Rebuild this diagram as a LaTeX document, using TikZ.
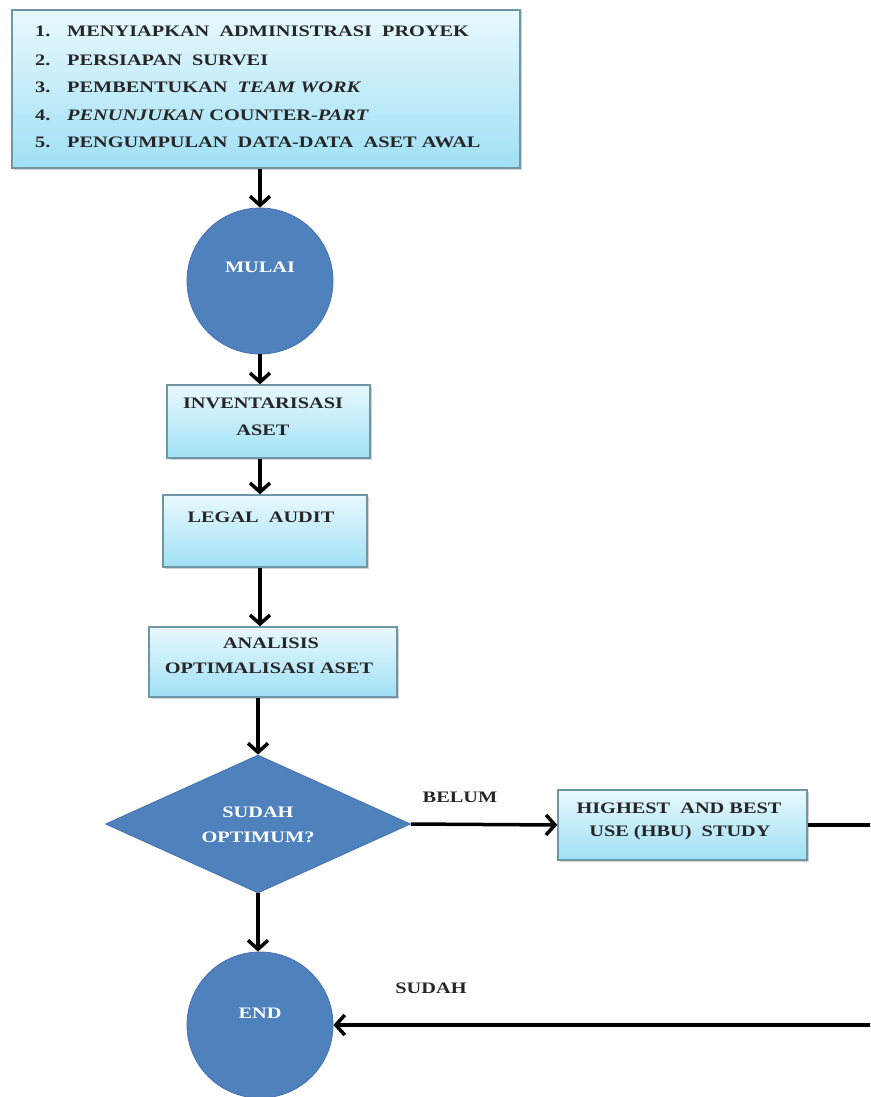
\documentclass[tikz,border=0pt]{standalone}
\usepackage{fontspec}
\setmainfont{Liberation Serif}[FakeStretch=1.27]
\usetikzlibrary{arrows.meta,shapes.geometric,shadows}
\definecolor{boxtop}{RGB}{232,249,254}
\definecolor{boxbot}{RGB}{160,224,245}
\definecolor{boxline}{RGB}{110,150,165}
\definecolor{circfill}{RGB}{79,129,189}
\definecolor{circline}{RGB}{70,115,175}
\tikzset{
  stepbox/.style={draw=boxline,line width=1.3pt,top color=boxtop,bottom color=boxbot,
    inner sep=0pt,drop shadow={shadow xshift=1.5pt,shadow yshift=-1.5pt,opacity=0.35}},
  roundnode/.style={circle,fill=circfill,draw=circline,line width=0.8pt,inner sep=0pt,minimum size=146pt},
  decision/.style={diamond,fill=circfill,draw=circline,line width=0.8pt,inner sep=0pt,aspect=2.2,
    minimum width=305pt,minimum height=138pt},
  txt/.style={font=\fontsize{16}{18}\selectfont\bfseries,inner sep=0pt,text=black!85},
  wtxt/.style={txt,text=white},
  flow/.style={line width=3.5pt,-{Straight Barb[length=9pt,width=20pt]}},
  plain/.style={line width=3.5pt}
}
\begin{document}
\begin{tikzpicture}[x=1pt,y=-1pt]
\clip (0,0) rectangle (870,1097);
\fill[white] (0,0) rectangle (870,1097);
% top box
\node[stepbox,minimum width=508pt,minimum height=158pt] (prep) at (266,89) {};
\node[txt,anchor=west] (n1) at (35,31) {1.};
\node[txt,anchor=west] (t1) at (67,31) {MENYIAPKAN\ \ ADMINISTRASI\ \ PROYEK};
\node[txt,anchor=west] (n2) at (35,60) {2.};
\node[txt,anchor=west] (t2) at (67,60) {PERSIAPAN\ \ SURVEI};
\node[txt,anchor=west] (n3) at (35,87) {3.};
\node[txt,anchor=west] (t3) at (67,87) {PEMBENTUKAN\ \ \textit{TEAM WORK}};
\node[txt,anchor=west] (n4) at (35,115) {4.};
\node[txt,anchor=west] (t4) at (67,115) {\textit{PENUNJUKAN} COUNTER-\textit{PART}};
\node[txt,anchor=west] (n5) at (35,142) {5.};
\node[txt,anchor=west] (t5) at (67,142) {PENGUMPULAN\ \ DATA-DATA\ \ ASET AWAL};
% start
\node[roundnode] (mulai) at (260,281) {};
\node[wtxt] (mulait) at (260,267) {MULAI};
% inventarisasi
\node[stepbox,minimum width=203pt,minimum height=73pt] (inv) at (268.5,421.5) {};
\node[txt] (inv1) at (263,403) {INVENTARISASI};
\node[txt] (inv2) at (263,430) {ASET};
% legal audit
\node[stepbox,minimum width=204pt,minimum height=72pt] (legal) at (265,531) {};
\node[txt] (legal1) at (261,517) {LEGAL\ \ AUDIT};
% analisis
\node[stepbox,minimum width=248pt,minimum height=70pt] (anal) at (273,662) {};
\node[txt] (anal1) at (271,643) {ANALISIS};
\node[txt] (anal2) at (269,668) {OPTIMALISASI ASET};
% decision
\node[decision] (dec) at (258,824) {};
\node[wtxt] (dec1) at (258,812) {SUDAH};
\node[wtxt] (dec2) at (258,837) {OPTIMUM?};
% HBU
\node[stepbox,minimum width=249pt,minimum height=70pt] (hbu) at (682.5,825) {};
\node[txt] (hbu1) at (679,808) {HIGHEST\ \ AND BEST};
\node[txt] (hbu2) at (680,833) {USE (HBU)\ \ STUDY};
% end
\node[roundnode] (endc) at (260,1025) {};
\node[wtxt] (endt) at (260,1013) {END};
% labels
\node[txt] (belum) at (460,797) {BELUM};
\node[txt] (sudah) at (431,988) {SUDAH};
\coordinate (rt) at (900,825);
% connectors
\draw[flow] (prep.south -| mulai) -- (mulai.north);
\draw[flow] (mulai.south) -- (inv.north -| mulai);
\draw[flow] (inv.south -| mulai) -- (legal.north -| mulai);
\draw[flow] (legal.south -| mulai) -- (anal.north -| mulai);
\draw[flow] (anal.south -| dec) -- (dec.north);
\draw[flow] (dec.east) -- (hbu.west);
\draw[flow] (dec.south) -- (endc.north -| dec);
\draw[plain] (hbu.east) -- (rt);
\draw[flow] (rt) |- (endc.east);
\end{tikzpicture}
\end{document}
